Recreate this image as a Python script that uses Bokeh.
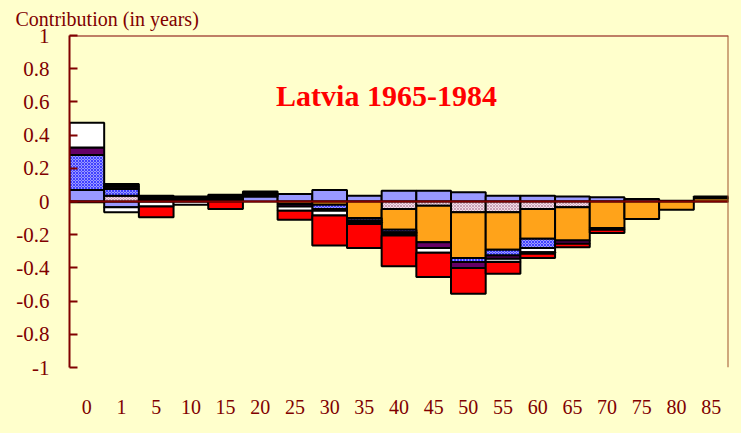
import numpy as np
from bokeh.plotting import figure
from bokeh.models import ColumnDataSource, FixedTicker, Span, Label, Range1d, Title
from bokeh.embed import file_html
from bokeh.resources import INLINE

# ---- data (contribution in years, by age group) ----
ages = ["0", "1", "5", "10", "15", "20", "25", "30", "35", "40",
        "45", "50", "55", "60", "65", "70", "75", "80", "85"]

s_lavender = [0.07, -0.035, 0, 0, 0, 0.03, 0.045, 0.07, 0.035, 0.065,
              0.065, 0.055, 0.035, 0.035, 0.03, 0.025, 0.015, 0.005, 0]
s_pink     = [0, 0.035, 0, 0, 0, 0, 0, 0, 0, -0.045,
              -0.025, -0.065, -0.065, -0.045, -0.035, 0, 0, 0, 0]
s_orange   = [0, 0, 0, 0, 0, 0, -0.015, -0.02, -0.1, -0.125,
              -0.22, -0.275, -0.225, -0.18, -0.2, -0.16, -0.105, -0.05, 0.02]
s_bluehat  = [0.21, 0.04, 0, 0, 0, 0, 0, -0.025, -0.015, -0.015,
              0, -0.025, -0.035, -0.055, 0, 0, 0, 0, 0]
s_purple   = [0.045, 0.014, 0, 0, 0, 0, -0.015, -0.01, -0.01, -0.01,
              -0.035, -0.035, -0.02, 0, -0.02, 0, 0, 0, 0]
s_white    = [0.15, -0.03, -0.03, -0.02, 0, 0, -0.025, -0.03, 0, 0,
              -0.028, 0, 0, -0.025, 0, 0, 0, 0, 0]
s_grey     = [0, 0, 0, 0, 0, 0, 0, 0, -0.01, -0.01,
              0, 0, -0.02, 0, 0, 0, 0, 0, 0]
s_black    = [0, 0.016, 0.035, 0.03, 0.04, 0.03, 0, 0, 0, 0,
              0, 0, 0, -0.01, 0, -0.01, 0, 0, 0.01]
s_red      = [-0.005, 0, -0.065, 0, -0.045, 0, -0.055, -0.18, -0.145, -0.185,
              -0.147, -0.156, -0.07, -0.025, -0.02, -0.02, 0, 0, 0]

y_ticks = [1, 0.8, 0.6, 0.4, 0.2, 0, -0.2, -0.4, -0.6, -0.8, -1]
y_labels = ["1", "0.8", "0.6", "0.4", "0.2", "0", "-0.2", "-0.4", "-0.6", "-0.8", "-1"]

title_text = "Latvia 1965-1984"
ylab_text = "Contribution (in years)"

BG = "#FFFFCC"
DARKRED = "#800000"
SERIF = "Liberation Serif"

series = [
    (s_lavender, "#9999FF", None, None),
    (s_pink, "#F2DCE6", "x", "#C8A0B4"),
    (s_orange, "#FFA31A", None, None),
    (s_bluehat, "#9999FF", "x", "#4040FF"),
    (s_purple, "#660066", None, None),
    (s_white, "#FFFFFF", None, None),
    (s_grey, "#C0C0C0", None, None),
    (s_black, "#000000", None, None),
    (s_red, "#FF0000", None, None),
]

n = len(ages)
xc = np.arange(n) + 0.5

p = figure(width=741, height=433, output_backend="svg", toolbar_location=None,
           x_range=Range1d(0, n), y_range=Range1d(-1, 1),
           min_border_left=69, min_border_right=13, min_border_top=35,
           min_border_bottom=66)
p.background_fill_color = BG
p.border_fill_color = BG
p.outline_line_color = None
p.grid.visible = False

pos_base = np.zeros(n)
neg_base = np.zeros(n)
for vals, fill, hatch, hcol in series:
    v = np.array(vals, dtype=float)
    bottom = np.where(v >= 0, pos_base, neg_base + v)
    top = np.where(v >= 0, pos_base + v, neg_base)
    pos_base = pos_base + np.where(v > 0, v, 0)
    neg_base = neg_base + np.where(v < 0, v, 0)
    m = v != 0
    src = ColumnDataSource(dict(x=xc[m], bottom=bottom[m], top=top[m]))
    kw = {}
    if hatch:
        kw = dict(hatch_pattern=hatch, hatch_color=hcol, hatch_scale=3, hatch_weight=1)
    p.vbar(x="x", bottom="bottom", top="top", width=1, source=src,
           fill_color=fill, line_color="#000000", line_width=2, **kw)

# zero line and frame borders
p.add_layout(Span(location=0, dimension="width", line_color=DARKRED, line_width=2))
p.add_layout(Span(location=1, dimension="width", line_color=DARKRED, line_width=2))
p.add_layout(Span(location=n, dimension="height", line_color="#A0522D", line_width=2))

# y axis
p.yaxis.ticker = FixedTicker(ticks=y_ticks)
p.yaxis.major_label_overrides = dict(zip(y_ticks, y_labels))
p.yaxis.axis_line_color = DARKRED
p.yaxis.axis_line_width = 2
p.yaxis.major_tick_in = 8
p.yaxis.major_tick_out = 0
p.yaxis.major_tick_line_color = DARKRED
p.yaxis.major_tick_line_width = 2
p.yaxis.minor_tick_line_color = None
p.yaxis.major_label_text_font = SERIF
p.yaxis.major_label_text_font_size = "21px"
p.yaxis.major_label_text_color = DARKRED
p.yaxis.major_label_standoff = 20

# x axis
p.xaxis.ticker = FixedTicker(ticks=list(xc))
p.xaxis.major_label_overrides = {float(t): a for t, a in zip(xc, ages)}
p.xaxis.axis_line_color = None
p.xaxis.major_tick_line_color = None
p.xaxis.minor_tick_line_color = None
p.xaxis.major_label_text_font = SERIF
p.xaxis.major_label_text_font_size = "20px"
p.xaxis.major_label_text_color = DARKRED
p.xaxis.major_label_standoff = 26

# texts
p.add_layout(Label(x=9.14, y=0.64, text=title_text, text_font=SERIF,
                   text_font_size="30px", text_font_style="bold",
                   text_color="#FF0000", text_align="center",
                   text_baseline="middle"))
p.add_layout(Title(text=ylab_text, align="left", offset=-54, standoff=11,
                   text_font=SERIF, text_font_size="20px",
                   text_font_style="normal", text_color=DARKRED), "above")

html = file_html(p, INLINE)
html = html.replace("<head>", "<head><style>body{background:#FFFFCC;}</style>", 1)
open("out.html", "w").write(html)
